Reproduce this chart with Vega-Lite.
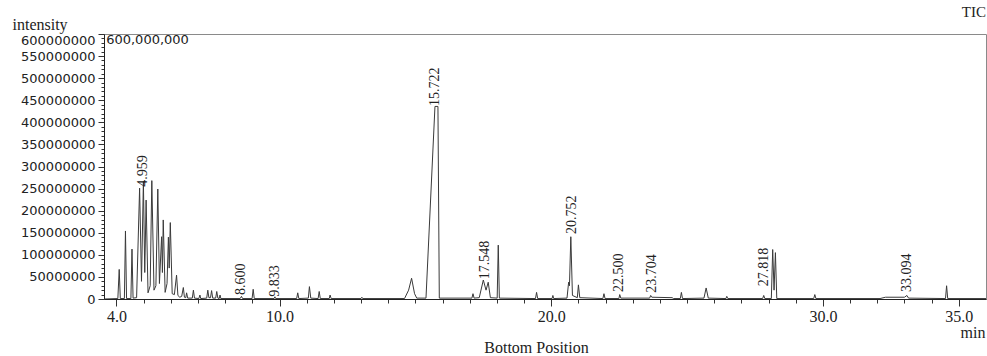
{
  "$schema": "https://vega.github.io/schema/vega-lite/v6.json",
  "width": 882,
  "height": 265,
  "autosize": {"type": "none"},
  "padding": {"left": 104, "top": 34, "right": 1, "bottom": 57},
  "background": "white",
  "config": {
    "view": {"stroke": "#8a8a8a", "strokeWidth": 1},
    "axis": {"grid": false, "domainColor": "#222", "tickColor": "#333", "labelColor": "#222", "titleColor": "#222", "titleFontWeight": "normal"}
  },
  "title": {"text": "TIC", "anchor": "end", "font": "Liberation Serif", "fontSize": 15, "fontWeight": "normal", "color": "#222", "offset": -4},
  "datasets": {
    "tic": [
      {"t": 3.55, "i": 0}, {"t": 4.05, "i": 1000000}, {"t": 4.10, "i": 67000000}, {"t": 4.14, "i": 1000000},
      {"t": 4.29, "i": 1000000}, {"t": 4.33, "i": 154000000}, {"t": 4.37, "i": 1000000},
      {"t": 4.53, "i": 1000000}, {"t": 4.57, "i": 113000000}, {"t": 4.61, "i": 2000000},
      {"t": 4.74, "i": 3000000}, {"t": 4.85, "i": 251000000}, {"t": 4.92, "i": 40000000},
      {"t": 4.99, "i": 266000000}, {"t": 5.04, "i": 60000000}, {"t": 5.09, "i": 224000000},
      {"t": 5.16, "i": 14000000}, {"t": 5.24, "i": 30000000}, {"t": 5.30, "i": 268000000},
      {"t": 5.38, "i": 20000000}, {"t": 5.45, "i": 30000000}, {"t": 5.52, "i": 249000000},
      {"t": 5.58, "i": 35000000}, {"t": 5.66, "i": 141000000}, {"t": 5.69, "i": 60000000},
      {"t": 5.72, "i": 179000000}, {"t": 5.79, "i": 15000000}, {"t": 5.86, "i": 35000000},
      {"t": 5.91, "i": 140000000}, {"t": 5.94, "i": 70000000}, {"t": 5.98, "i": 173000000},
      {"t": 6.05, "i": 12000000}, {"t": 6.13, "i": 10000000}, {"t": 6.21, "i": 54000000},
      {"t": 6.26, "i": 8000000}, {"t": 6.33, "i": 4000000}, {"t": 6.40, "i": 6000000},
      {"t": 6.46, "i": 26000000}, {"t": 6.50, "i": 4000000}, {"t": 6.55, "i": 3000000},
      {"t": 6.58, "i": 14000000}, {"t": 6.62, "i": 2000000}, {"t": 6.79, "i": 2000000},
      {"t": 6.83, "i": 20000000}, {"t": 6.87, "i": 2000000}, {"t": 7.03, "i": 1000000},
      {"t": 7.07, "i": 9000000}, {"t": 7.10, "i": 1000000}, {"t": 7.32, "i": 2000000},
      {"t": 7.36, "i": 20000000}, {"t": 7.40, "i": 3000000}, {"t": 7.46, "i": 3000000},
      {"t": 7.50, "i": 19000000}, {"t": 7.54, "i": 2000000}, {"t": 7.65, "i": 2000000},
      {"t": 7.69, "i": 17000000}, {"t": 7.73, "i": 2000000}, {"t": 7.78, "i": 1000000},
      {"t": 7.81, "i": 9000000}, {"t": 7.84, "i": 1000000}, {"t": 8.55, "i": 1000000},
      {"t": 8.60, "i": 6000000}, {"t": 8.64, "i": 1000000}, {"t": 8.99, "i": 1000000},
      {"t": 9.03, "i": 22000000}, {"t": 9.07, "i": 1000000}, {"t": 9.80, "i": 1000000},
      {"t": 9.83, "i": 5000000}, {"t": 9.86, "i": 1000000}, {"t": 10.63, "i": 1000000},
      {"t": 10.67, "i": 14000000}, {"t": 10.71, "i": 1000000}, {"t": 11.06, "i": 2000000},
      {"t": 11.10, "i": 28000000}, {"t": 11.15, "i": 2000000}, {"t": 11.42, "i": 1000000},
      {"t": 11.46, "i": 17000000}, {"t": 11.50, "i": 1000000}, {"t": 11.83, "i": 1000000},
      {"t": 11.86, "i": 9000000}, {"t": 11.90, "i": 1000000}, {"t": 13.00, "i": 1000000},
      {"t": 13.03, "i": 4000000}, {"t": 13.06, "i": 1000000}, {"t": 14.60, "i": 1000000},
      {"t": 14.75, "i": 20000000}, {"t": 14.86, "i": 47000000}, {"t": 14.97, "i": 12000000},
      {"t": 15.05, "i": 2000000}, {"t": 15.39, "i": 2000000}, {"t": 15.72, "i": 436000000},
      {"t": 15.83, "i": 436000000}, {"t": 15.88, "i": 2000000}, {"t": 17.08, "i": 2000000},
      {"t": 17.12, "i": 12000000}, {"t": 17.16, "i": 2000000}, {"t": 17.35, "i": 3000000},
      {"t": 17.50, "i": 43000000}, {"t": 17.60, "i": 20000000}, {"t": 17.68, "i": 38000000},
      {"t": 17.76, "i": 3000000}, {"t": 18.01, "i": 2000000}, {"t": 18.05, "i": 122000000},
      {"t": 18.09, "i": 2000000}, {"t": 19.42, "i": 1000000}, {"t": 19.46, "i": 15000000},
      {"t": 19.50, "i": 1000000}, {"t": 20.03, "i": 1000000}, {"t": 20.06, "i": 8000000},
      {"t": 20.09, "i": 1000000}, {"t": 20.58, "i": 2000000}, {"t": 20.64, "i": 38000000},
      {"t": 20.67, "i": 30000000}, {"t": 20.72, "i": 141000000}, {"t": 20.78, "i": 8000000},
      {"t": 20.96, "i": 3000000}, {"t": 21.00, "i": 32000000}, {"t": 21.05, "i": 3000000},
      {"t": 21.90, "i": 1000000}, {"t": 21.94, "i": 12000000}, {"t": 21.98, "i": 1000000},
      {"t": 22.49, "i": 1000000}, {"t": 22.52, "i": 10000000}, {"t": 22.56, "i": 2000000},
      {"t": 23.62, "i": 2000000}, {"t": 23.66, "i": 8000000}, {"t": 23.70, "i": 4000000},
      {"t": 24.45, "i": 3000000}, {"t": 24.50, "i": 1000000}, {"t": 24.75, "i": 1000000},
      {"t": 24.79, "i": 15000000}, {"t": 24.83, "i": 1000000}, {"t": 25.62, "i": 2000000},
      {"t": 25.70, "i": 25000000}, {"t": 25.78, "i": 2000000}, {"t": 26.43, "i": 1000000},
      {"t": 26.46, "i": 6000000}, {"t": 26.50, "i": 1000000}, {"t": 27.78, "i": 1000000},
      {"t": 27.82, "i": 8000000}, {"t": 27.86, "i": 1000000}, {"t": 28.10, "i": 1000000},
      {"t": 28.15, "i": 112000000}, {"t": 28.20, "i": 20000000}, {"t": 28.25, "i": 105000000},
      {"t": 28.30, "i": 1000000}, {"t": 29.66, "i": 1000000}, {"t": 29.70, "i": 10000000},
      {"t": 29.74, "i": 1000000}, {"t": 32.10, "i": 1000000}, {"t": 32.30, "i": 4000000},
      {"t": 33.00, "i": 4000000}, {"t": 33.09, "i": 8000000}, {"t": 33.15, "i": 2000000},
      {"t": 34.51, "i": 1000000}, {"t": 34.55, "i": 30000000}, {"t": 34.59, "i": 1000000},
      {"t": 36.00, "i": 1000000}
    ],
    "peaks": [
      {"rt": "4.959", "t": 4.959, "i": 254000000},
      {"rt": "8.600", "t": 8.6, "i": 9000000},
      {"rt": "9.833", "t": 9.833, "i": 5000000},
      {"rt": "15.722", "t": 15.722, "i": 437000000},
      {"rt": "17.548", "t": 17.548, "i": 45000000},
      {"rt": "20.752", "t": 20.752, "i": 147000000},
      {"rt": "22.500", "t": 22.5, "i": 16000000},
      {"rt": "23.704", "t": 23.704, "i": 14000000},
      {"rt": "27.818", "t": 27.818, "i": 29000000},
      {"rt": "33.094", "t": 33.094, "i": 16000000}
    ],
    "note": [{"label": "600,000,000", "t": 3.62, "i": 600000000}]
  },
  "resolve": {"axis": {"x": "independent", "y": "independent"}},
  "layer": [
    {
      "data": {"name": "tic"},
      "mark": {"type": "line", "stroke": "#3a3a3a", "strokeWidth": 1, "clip": true},
      "encoding": {
        "x": {
          "field": "t", "type": "quantitative",
          "scale": {"domain": [3.54, 36.0], "nice": false, "zero": false},
          "axis": {
            "orient": "bottom",
            "title": "Bottom Position",
            "titleFont": "Liberation Serif", "titleFontSize": 16,
            "titleX": 432, "titleY": 53, "titleAlign": "center", "titleBaseline": "alphabetic",
            "values": [4,5,6,7,8,9,10,11,12,13,14,15,16,17,18,19,20,21,22,23,24,25,26,27,28,29,30,31,32,33,34,35],
            "labelExpr": "indexof([4,10,20,30,35], datum.value) >= 0 ? format(datum.value, '.1f') : ''",
            "labelFont": "Liberation Serif", "labelFontSize": 16, "labelPadding": 2,
            "labelOverlap": false, "labelFlush": false,
            "tickSize": {"condition": {"test": "indexof([4,10,20,30,35], datum.value) >= 0", "value": 7}, "value": 4}
          }
        },
        "y": {
          "field": "i", "type": "quantitative",
          "scale": {"domain": [0, 600000000], "nice": false},
          "axis": {
            "title": "intensity",
            "titleFont": "Liberation Serif", "titleFontSize": 16,
            "titleAngle": 0, "titleAlign": "left", "titleBaseline": "alphabetic",
            "titleX": -92, "titleY": -5,
            "values": [0,10000000,20000000,30000000,40000000,50000000,60000000,70000000,80000000,90000000,100000000,110000000,120000000,130000000,140000000,150000000,160000000,170000000,180000000,190000000,200000000,210000000,220000000,230000000,240000000,250000000,260000000,270000000,280000000,290000000,300000000,310000000,320000000,330000000,340000000,350000000,360000000,370000000,380000000,390000000,400000000,410000000,420000000,430000000,440000000,450000000,460000000,470000000,480000000,490000000,500000000,510000000,520000000,530000000,540000000,550000000,560000000,570000000,580000000,590000000,600000000],
            "format": "d",
            "labelExpr": "datum.value % 50000000 === 0 ? datum.label : ''",
            "labelFont": "DejaVu Sans", "labelFontSize": 13, "labelPadding": 3,
            "labelOverlap": false, "labelFlush": false,
            "labelBaseline": {"condition": {"test": "datum.value === 600000000", "value": "top"}, "value": "middle"},
            "tickSize": {"condition": {"test": "datum.value % 50000000 === 0", "value": 6}, "value": 3}
          }
        }
      }
    },
    {
      "data": {"name": "peaks"},
      "mark": {"type": "text", "angle": 270, "align": "left", "baseline": "middle", "font": "Liberation Serif", "fontSize": 14, "color": "#222"},
      "encoding": {
        "x": {"field": "t", "type": "quantitative", "axis": {"orient": "bottom", "title": "min", "titleFont": "Liberation Serif", "titleFontSize": 16, "titleX": 881, "titleY": 38, "titleAlign": "right", "titleBaseline": "alphabetic", "domain": false, "ticks": false, "labels": false, "grid": false}},
        "y": {"field": "i", "type": "quantitative", "axis": null},
        "text": {"field": "rt"}
      }
    },
    {
      "data": {"name": "note"},
      "mark": {"type": "text", "align": "left", "baseline": "top", "font": "DejaVu Sans", "fontSize": 13, "color": "#222"},
      "encoding": {
        "x": {"field": "t", "type": "quantitative", "axis": null},
        "y": {"field": "i", "type": "quantitative", "axis": null},
        "text": {"field": "label"}
      }
    }
  ]
}
